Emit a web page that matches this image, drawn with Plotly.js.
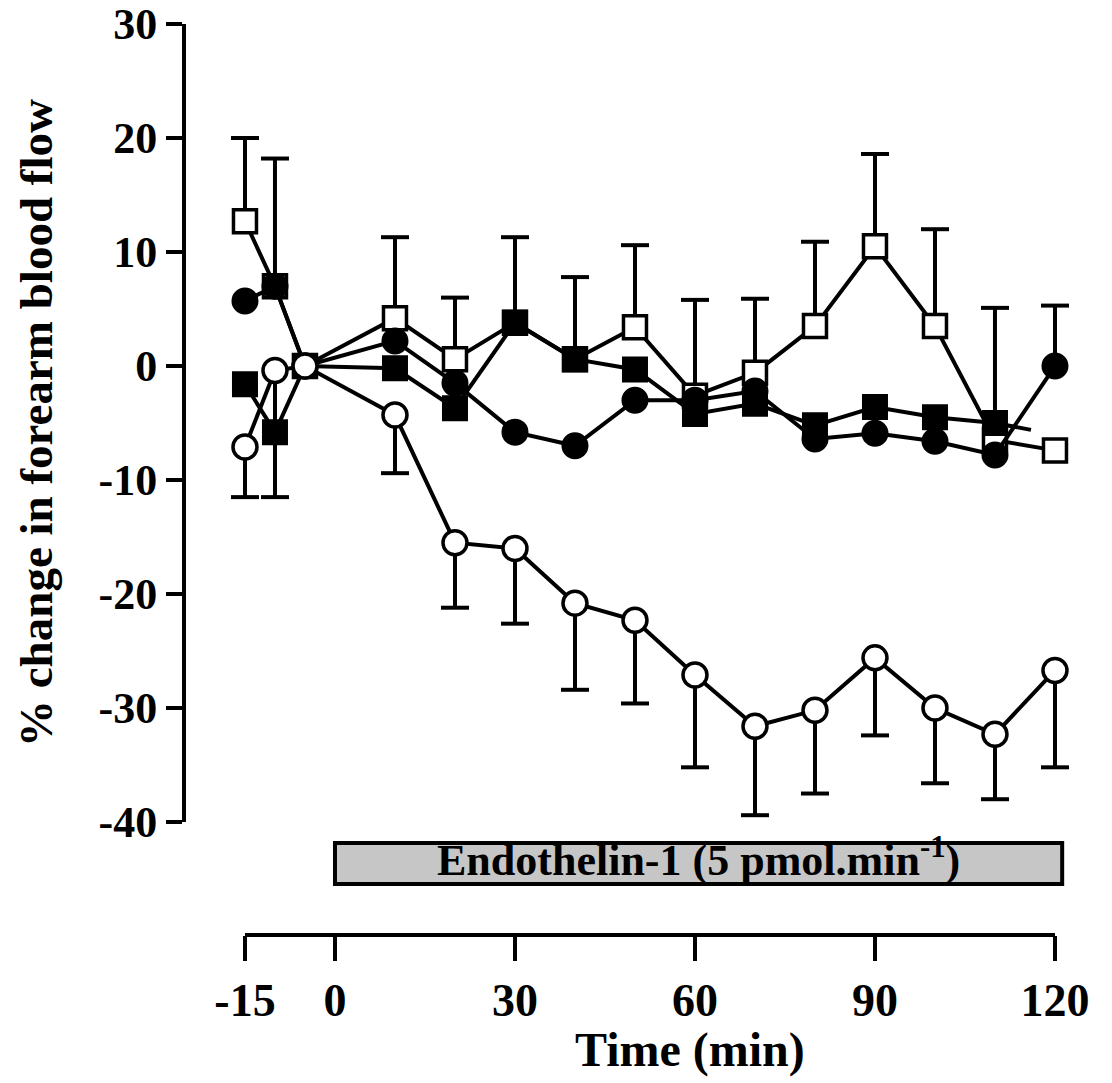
<!DOCTYPE html>
<html>
<head>
<meta charset="utf-8">
<script src="https://cdn.plot.ly/plotly-3.0.1.min.js"></script>
<style>html,body{margin:0;padding:0;background:#fff;}#chart{width:1112px;height:1083px;}</style>
</head>
<body>
<div id="chart"></div>
<script>
// Time points (min)
const times = [-15, -10, -5, 10, 20, 30, 40, 50, 60, 70, 80, 90, 100, 110, 120];

// Open circles (% change) and lower error limits
const openCircle    = [-7.1, -0.4, 0, -4.3, -15.5, -16.0, -20.8, -22.3, -27.1, -31.6, -30.2, -25.6, -30.0, -32.3, -26.7];
const openCircleLow = [-11.5, -11.5, null, -9.4, -21.2, -22.6, -28.4, -29.6, -35.2, -39.4, -37.5, -32.4, -36.6, -38.0, -35.2];

// Open squares and upper error limits
const openSquare    = [12.7, 7.0, 0, 4.2, 0.6, 3.8, 0.6, 3.4, -2.6, -0.6, 3.5, 10.5, 3.5, -6.5, -7.4];
const openSquareHigh= [20.0, 18.2, null, 11.3, 6.0, 11.3, 7.8, 10.6, 5.8, 5.9, 10.9, 18.6, 12.0, 5.1, null];

// Filled circles and upper error limits
const filledCircle    = [5.7, 7.0, 0, 2.2, -1.5, -5.8, -7.0, -3.0, -3.0, -2.2, -6.4, -5.9, -6.6, -7.8, 0.0];
const filledCircleHigh= [null, null, null, null, null, null, null, null, null, null, null, null, null, null, 5.3];

// Filled squares (no point drawn at 120; line fragment after 110)
const sqTimes      = [-15, -10, -5, 10, 20, 30, 40, 50, 60, 70, 80, 90, 100, 110];
const filledSquare = [-1.6, -5.8, 0, -0.2, -3.7, 3.8, 0.6, -0.3, -4.2, -3.3, -5.2, -3.6, -4.5, -5.0];
const filledSquareTailX = [110, 116];
const filledSquareTailY = [-5.0, -5.6];

// Axis ticks
const yTicks = [30, 20, 10, 0, -10, -20, -30, -40];
const xTicks = [-15, 0, 30, 60, 90, 120];

const FONT = 'Liberation Serif, Times New Roman, serif';

function errorTraces(xs, vs, lims) {
  const lx = [], ly = [], cx = [], cy = [];
  xs.forEach((x, i) => {
    const l = lims[i];
    if (l === null || l === undefined) return;
    lx.push(x, x, null); ly.push(vs[i], l, null);
    cx.push(x); cy.push(l);
  });
  return [
    {x: lx, y: ly, mode: 'lines', line: {color: 'black', width: 4}, hoverinfo: 'skip', showlegend: false, connectgaps: false},
    {x: cx, y: cy, mode: 'markers', marker: {symbol: 'line-ew', size: 20, line: {color: 'black', width: 4}}, hoverinfo: 'skip', showlegend: false}
  ];
}

const lineStyle = {color: 'black', width: 4};

const traces = [
  ...errorTraces(times, openSquare, openSquareHigh),
  ...errorTraces(times, filledCircle, filledCircleHigh),
  ...errorTraces(times, openCircle, openCircleLow),
  {x: times, y: openSquare, mode: 'lines+markers', line: lineStyle,
   marker: {symbol: 'square', size: 23, color: 'white', line: {color: 'black', width: 3.5}}, showlegend: false},
  {x: times, y: filledCircle, mode: 'lines+markers', line: lineStyle,
   marker: {symbol: 'circle', size: 25, color: 'black', line: {color: 'black', width: 2}}, showlegend: false},
  {x: filledSquareTailX, y: filledSquareTailY, mode: 'lines', line: lineStyle, showlegend: false, hoverinfo: 'skip'},
  {x: sqTimes, y: filledSquare, mode: 'lines+markers', line: lineStyle,
   marker: {symbol: 'square', size: 24, color: 'black', line: {color: 'black', width: 2}}, showlegend: false},
  {x: times, y: openCircle, mode: 'lines+markers', line: lineStyle,
   marker: {symbol: 'circle', size: 24, color: 'white', line: {color: 'black', width: 3.5}}, showlegend: false}
];

const layout = {
  width: 1112, height: 1083,
  margin: {l: 186, r: 32, t: 24, b: 148},
  paper_bgcolor: 'white', plot_bgcolor: 'white',
  showlegend: false,
  xaxis: {
    range: [-24.83, 124.17], anchor: 'free', position: 0,
    showline: false, showgrid: false, zeroline: false,
    ticks: 'outside', ticklen: 25, tickwidth: 3.5, tickcolor: 'black',
    tickvals: xTicks, ticktext: xTicks.map(String),
    ticklabeloverflow: 'allow',
    tickfont: {family: FONT, size: 46, color: 'black', weight: 'bold'}
  },
  yaxis: {
    range: [-40, 30], domain: [0.124, 1],
    showline: true, linewidth: 4, linecolor: 'black',
    showgrid: false, zeroline: false,
    ticks: 'outside', ticklen: 16, tickwidth: 3.5, tickcolor: 'black',
    tickvals: yTicks, ticktext: yTicks.map(String),
    ticklabeloverflow: 'allow',
    tickfont: {family: FONT, size: 44, color: 'black', weight: 'bold'},
    title: {text: '% change in forearm blood flow', standoff: 32,
            font: {family: FONT, size: 47, color: 'black', weight: 'bold'}}
  },
  shapes: [
    {type: 'line', xref: 'x', yref: 'paper', x0: -15, x1: 120, y0: 0, y1: 0,
     line: {color: 'black', width: 4}},
    {type: 'rect', xref: 'x', yref: 'paper', x0: 0, x1: 121.2, y0: 0.056, y1: 0.101,
     fillcolor: '#c6c6c6', line: {color: 'black', width: 4}}
  ],
  annotations: [
    {xref: 'x', yref: 'paper', x: 60.6, y: 0.085, xanchor: 'center', yanchor: 'middle', showarrow: false,
     text: 'Endothelin-1 (5 pmol.min<sup>-1</sup>)',
     font: {family: FONT, size: 44, color: 'black', weight: 'bold'}},
    {xref: 'x', yref: 'paper', x: 59.2, y: -0.1262, xanchor: 'center', yanchor: 'middle', showarrow: false,
     text: 'Time (min)', font: {family: FONT, size: 48, color: 'black', weight: 'bold'}}
  ]
};

Plotly.newPlot('chart', traces, layout, {staticPlot: true, displayModeBar: false});
</script>
</body>
</html>
